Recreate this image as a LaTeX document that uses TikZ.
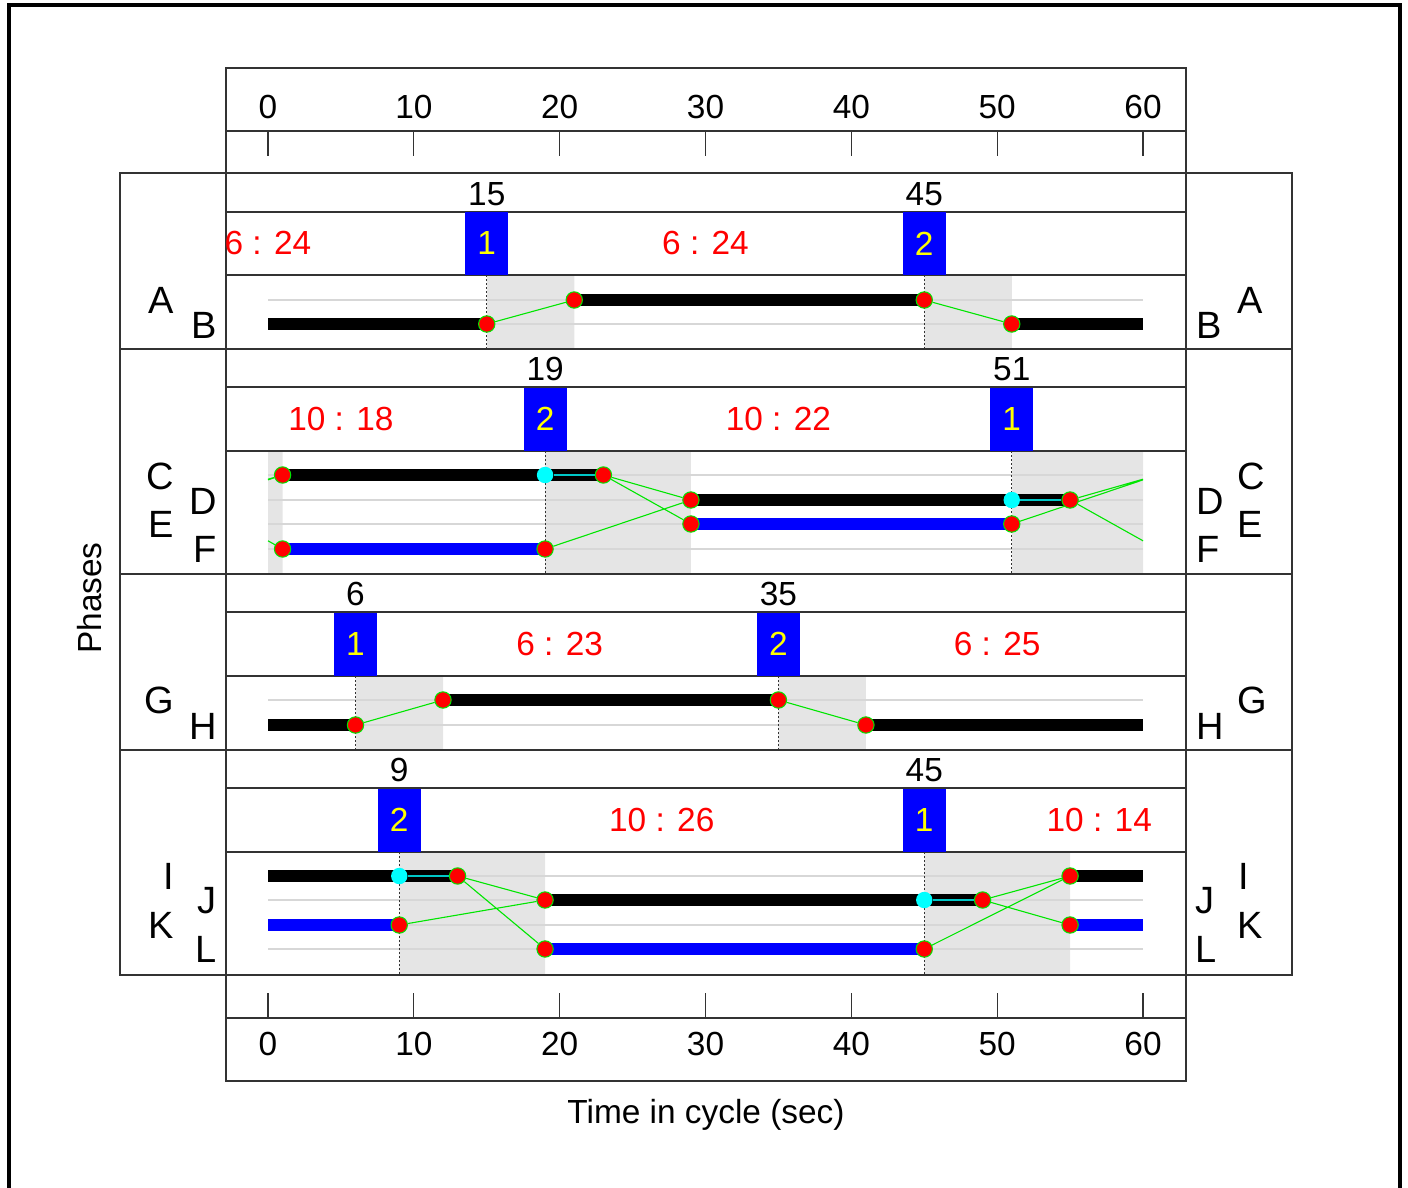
\documentclass[tikz,border=0pt]{standalone}
\usepackage{fontspec}
\setmainfont{Liberation Sans}
\usetikzlibrary{positioning}
\pgfdeclarelayer{bg}
\pgfdeclarelayer{mid}
\pgfsetlayers{bg,mid,main}
\definecolor{sgreen}{RGB}{0,230,0}
\definecolor{dotcyan}{RGB}{0,255,255}
\definecolor{holdcyan}{RGB}{0,200,200}
\definecolor{sred}{RGB}{255,0,0}
\definecolor{sblue}{RGB}{0,0,255}
\definecolor{syellow}{RGB}{255,255,0}
\definecolor{shadegray}{RGB}{229,229,229}
\definecolor{guidegray}{RGB}{215,215,215}
\tikzset{
  frame/.style={draw=black!80,line width=0.8pt},
  num/.style={font=\fontsize{16.7}{18}\selectfont,inner sep=0pt},
  lett/.style={font=\fontsize{19}{21}\selectfont,inner sep=0pt},
  ratio/.style={num,text=sred},
  sigbox/.style={num,fill=sblue,text=syellow,minimum width=21.5pt,minimum height=31.5pt},
  red dot/.style={circle,fill=sred,draw=sgreen,line width=0.5pt,minimum size=8.2pt,inner sep=0pt},
  cyan dot/.style={circle,fill=dotcyan,minimum size=8.2pt,inner sep=0pt},
  bar/.style={line width=6pt},
  move/.style={sgreen,line width=0.55pt},
  hold/.style={holdcyan,line width=0.6pt},
  guide/.style={guidegray,line width=0.7pt},
  cut/.style={black!80,line width=0.5pt,dash pattern=on 1pt off 1pt},
  shade/.style={fill=shadegray}
}

\begin{document}
\begin{tikzpicture}[x=0.5pt,y=-0.5pt]
\useasboundingbox (0,0) rectangle (1408,1188);
\draw[line width=2pt] (9,1192) -- (9,5.5) -- (1400,5.5) -- (1400,1192);

\draw[frame] (226,68) rectangle (1186,173) (226,131) -- (1186,131);
\draw[frame] (226,975) rectangle (1186,1081) (226,1018) -- (1186,1018);
\foreach \top/\a/\b/\bot in {173/212/275/349,349/387/451/574,574/612/676/750,750/788/852/975}
  \draw[frame] (120,\top) rectangle (1292,\bot) (226,\top) -- (226,\bot) (1186,\top) -- (1186,\bot)
    (226,\a) -- (1186,\a) (226,\b) -- (1186,\b);

\node[num,rotate=90] (phases) at (90,598) {Phases};
\node[num] (xlabel) at (706,1114.5) {Time in cycle (sec)};

\foreach \x/\y/\l in {174.5/300/A,174.5/476/C,174.5/524/E,174.5/700/G,174.5/876/I,174.5/925/K,
  217/325/B,217/501/D,217/549/F,217/726/H,217/901/J,217/949/L}
  \node[lett,anchor=east] (left\l) at (\x,\y) {\l};
\foreach \x/\y/\l in {1237/300/A,1237/476/C,1237/524/E,1237/700/G,1238/876/I,1237/925/K,
  1196/325/B,1196/501/D,1196/549/F,1196/726/H,1195/901/J,1195/949/L}
  \node[lett,anchor=west] (right\l) at (\x,\y) {\l};

\begin{scope}[xshift=134pt,x=7.29167pt]
\foreach \t in {0,10,...,60} {
  \draw[black!80,line width=0.6pt] (\t,131) -- (\t,156) (\t,993) -- (\t,1018);
  \node[num] (top\t) at (\t,107) {\t};
  \node[num] (bot\t) at (\t,1044) {\t};
}

\foreach \t/\s/\yb/\yn/\k in {15/1/243.5/194/a,45/2/243.5/194/b,19/2/419/369/c,51/1/419/369/d,
  6/1/644/594/e,35/2/644/594/f,9/2/820/770/g,45/1/820/770/h} {
  \node[sigbox] (sb\k) at (\t,\yb) {\s};
  \node[num] (sn\k) at (\t,\yn) {\t};
}
\foreach \t/\y/\r/\k in {0/243.5/6 : 24/a,30/243.5/6 : 24/b,5/419/10 : 18/c,35/419/10 : 22/d,
  20/644/6 : 23/e,50/644/6 : 25/f,27/820/10 : 26/g,57/820/10 : 14/h}
  \node[ratio] (gr\k) at (\t,\y) {\r};

\begin{pgfonlayer}{bg}
\fill[shade] (15,275) rectangle (21,349) (45,275) rectangle (51,349);
\fill[shade] (0,451) rectangle (1,574) (19,451) rectangle (29,574) (51,451) rectangle (60,574);
\fill[shade] (6,676) rectangle (12,750) (35,676) rectangle (41,750);
\fill[shade] (9,852) rectangle (19,975) (45,852) rectangle (55,975);
\foreach \y in {300,324,475,500,524,549,700,725,876,900,925,949}
  \draw[guide] (0,\y) -- (60,\y);
\draw[cut] (15,275) -- (15,349) (45,275) -- (45,349) (19,451) -- (19,574) (51,451) -- (51,574)
  (6,676) -- (6,750) (35,676) -- (35,750) (9,852) -- (9,975) (45,852) -- (45,975);
\end{pgfonlayer}

\coordinate (B0) at (0,324); \coordinate (B60) at (60,324);
\node[red dot] (pB1) at (15,324) {};
\node[red dot] (pA1) at (21,300) {};
\node[red dot] (pA2) at (45,300) {};
\node[red dot] (pB2) at (51,324) {};

\coordinate (C0) at (0,479.2); \coordinate (C0b) at (0,479.9); \coordinate (F0) at (0,540.8);
\coordinate (C60) at (60,479.2); \coordinate (C60b) at (60,479.9); \coordinate (F60) at (60,540.8);
\node[red dot] (pC1) at (1,475) {};
\node[red dot] (pF1) at (1,549) {};
\node[cyan dot] (qC) at (19,475) {};
\node[red dot] (pF2) at (19,549) {};
\node[red dot] (pC2) at (23,475) {};
\node[red dot] (pD1) at (29,500) {};
\node[red dot] (pE1) at (29,524) {};
\node[cyan dot] (qD) at (51,500) {};
\node[red dot] (pE2) at (51,524) {};
\node[red dot] (pD2) at (55,500) {};

\coordinate (H0) at (0,725); \coordinate (H60) at (60,725);
\node[red dot] (pH1) at (6,725) {};
\node[red dot] (pG1) at (12,700) {};
\node[red dot] (pG2) at (35,700) {};
\node[red dot] (pH2) at (41,725) {};

\coordinate (I0) at (0,876); \coordinate (I60) at (60,876);
\coordinate (K0) at (0,925); \coordinate (K60) at (60,925);
\node[cyan dot] (qI) at (9,876) {};
\node[red dot] (pK1) at (9,925) {};
\node[red dot] (pI1) at (13,876) {};
\node[red dot] (pJ1) at (19,900) {};
\node[red dot] (pL1) at (19,949) {};
\node[cyan dot] (qJ) at (45,900) {};
\node[red dot] (pL2) at (45,949) {};
\node[red dot] (pJ2) at (49,900) {};
\node[red dot] (pI2) at (55,876) {};
\node[red dot] (pK2) at (55,925) {};

\begin{pgfonlayer}{mid}
\draw[move] (pB1) -- (pA1) (pA2) -- (pB2)
  (pC2) -- (pD1) (pC2) -- (pE1) (pF2) -- (pD1) (pD2) -- (C60) (pE2) -- (C60b) (pD2) -- (F60)
  (C0) -- (pC1) (C0b) -- (pC1) (F0) -- (pF1)
  (pH1) -- (pG1) (pG2) -- (pH2)
  (pI1) -- (pJ1) (pI1) -- (pL1) (pK1) -- (pJ1) (pJ2) -- (pI2) (pJ2) -- (pK2) (pL2) -- (pI2);
\draw[bar] (B0) -- (pB1.center) (pA1.center) -- (pA2.center) (pB2.center) -- (B60)
  (pC1.center) -- (pC2.center) (pD1.center) -- (pD2.center)
  (H0) -- (pH1.center) (pG1.center) -- (pG2.center) (pH2.center) -- (H60)
  (I0) -- (pI1.center) (pJ1.center) -- (pJ2.center) (pI2.center) -- (I60);
\draw[bar,sblue] (pF1.center) -- (pF2.center) (pE1.center) -- (pE2.center)
  (K0) -- (pK1.center) (pL1.center) -- (pL2.center) (pK2.center) -- (K60);
\draw[hold] (qC) -- (pC2) (qD) -- (pD2) (qI) -- (pI1) (qJ) -- (pJ2);
\end{pgfonlayer}
\end{scope}
\end{tikzpicture}
\end{document}
